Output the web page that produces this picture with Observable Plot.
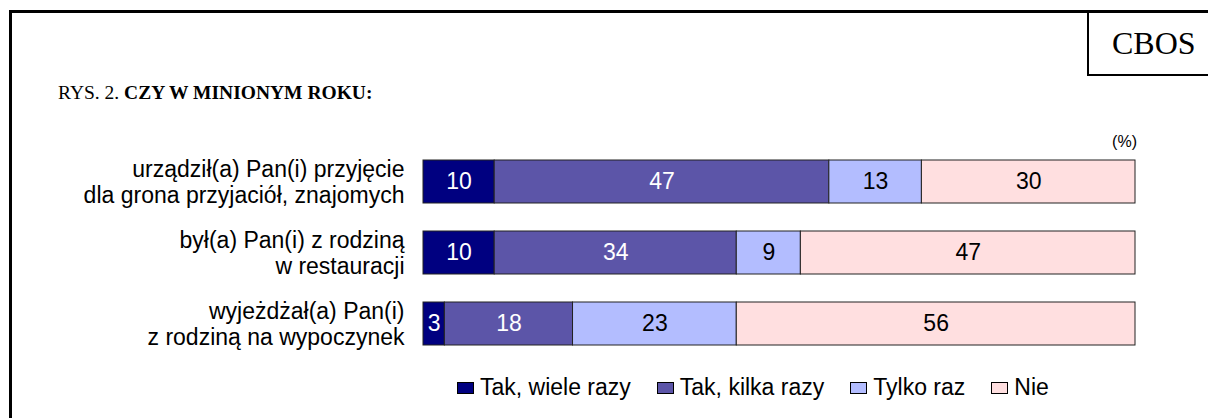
<!DOCTYPE html>
<html>
<head>
<meta charset="utf-8">
<script src="https://cdn.jsdelivr.net/npm/d3@7"></script>
<script src="https://cdn.jsdelivr.net/npm/@observablehq/plot@0.6"></script>
<style>
  html, body { margin: 0; padding: 0; background: #fff; }
  #wrap { position: relative; width: 1208px; height: 418px; overflow: hidden; background: #fff; }
  #frame { position: absolute; left: 9px; top: 10px; width: 1400px; height: 600px; border-left: 3px solid #000; border-top: 3px solid #000; }
  #cbosbox { position: absolute; left: 1087px; top: 10px; width: 300px; height: 64px; border-left: 2px solid #000; border-bottom: 2px solid #000; }
  #cbos { position: absolute; left: 1112px; top: 27px; font-family: "Liberation Serif", "Times New Roman", serif; font-size: 32px; line-height: 32px; color: #000; }
  #title { position: absolute; left: 58px; top: 83px; font-family: "Liberation Serif", "Times New Roman", serif; font-size: 19.5px; line-height: 19.5px; color: #000; white-space: nowrap; }
  #pct { position: absolute; right: 71px; top: 134px; font-family: "Liberation Sans", Arial, sans-serif; font-size: 16px; line-height: 16px; color: #000; }
  #chart { position: absolute; left: 0; top: 0; }
  #legend { position: absolute; left: 457px; top: 376px; display: flex; gap: 26px; font-family: "Liberation Sans", Arial, sans-serif; font-size: 23px; line-height: 23px; color: #000; white-space: nowrap; }
  .item { display: flex; align-items: center; gap: 6px; }
  .sw { width: 15px; height: 10px; border: 1px solid #000; display: inline-block; }
</style>
</head>
<body>
<div id="wrap">
  <div id="chart"></div>
  <div id="frame"></div>
  <div id="cbosbox"></div>
  <div id="cbos">CBOS</div>
  <div id="title">RYS. 2. <b>CZY W MINIONYM ROKU:</b></div>
  <div id="pct">(%)</div>
  <div id="legend"></div>
</div>
<script>
const categories = [
  "urządził(a) Pan(i) przyjęcie\ndla grona przyjaciół, znajomych",
  "był(a) Pan(i) z rodziną\nw restauracji",
  "wyjeżdżał(a) Pan(i)\nz rodziną na wypoczynek"
];
const series = ["Tak, wiele razy", "Tak, kilka razy", "Tylko raz", "Nie"];
const colors = ["#000080", "#5c55a8", "#b3bdff", "#ffdfe0"];
const labelColors = ["#ffffff", "#ffffff", "#000000", "#000000"];
const wieleRazy = [10, 10, 3];
const kilkaRazy = [47, 34, 18];
const tylkoRaz = [13, 9, 23];
const nie = [30, 47, 56];

const valuesBySeries = [wieleRazy, kilkaRazy, tylkoRaz, nie];
const data = [];
categories.forEach((c, ci) => {
  series.forEach((s, si) => {
    data.push({cat: c, series: s, value: valuesBySeries[si][ci], si});
  });
});

const chart = Plot.plot({
  width: 1208,
  height: 418,
  marginLeft: 423,
  marginRight: 73,
  marginTop: 130.7,
  marginBottom: 43.8,
  style: {fontFamily: "'Liberation Sans', Arial, sans-serif", fontSize: "23px", color: "#000", background: "transparent"},
  x: {domain: [0, 100], axis: null},
  y: {domain: categories, padding: 0.394, axis: null},
  color: {domain: series, range: colors},
  marks: [
    Plot.barX(data, Plot.stackX({x: "value", y: "cat", z: "series", fill: "series", stroke: "#222", strokeWidth: 1})),
    Plot.text(data, Plot.stackX({x: "value", y: "cat", z: "series", text: d => String(d.value), fill: d => labelColors[d.si], fontSize: 23})),
    Plot.axisY({tickSize: 0, tickPadding: 19, fontSize: 23, lineHeight: 1.1, textAnchor: "end", fill: "#000", label: null})
  ]
});
document.getElementById("chart").appendChild(chart);

const legend = document.getElementById("legend");
series.forEach((s, i) => {
  const item = document.createElement("div");
  item.className = "item";
  const sw = document.createElement("span");
  sw.className = "sw";
  sw.style.background = colors[i];
  const t = document.createElement("span");
  t.textContent = s;
  item.appendChild(sw);
  item.appendChild(t);
  legend.appendChild(item);
});
</script>
</body>
</html>
